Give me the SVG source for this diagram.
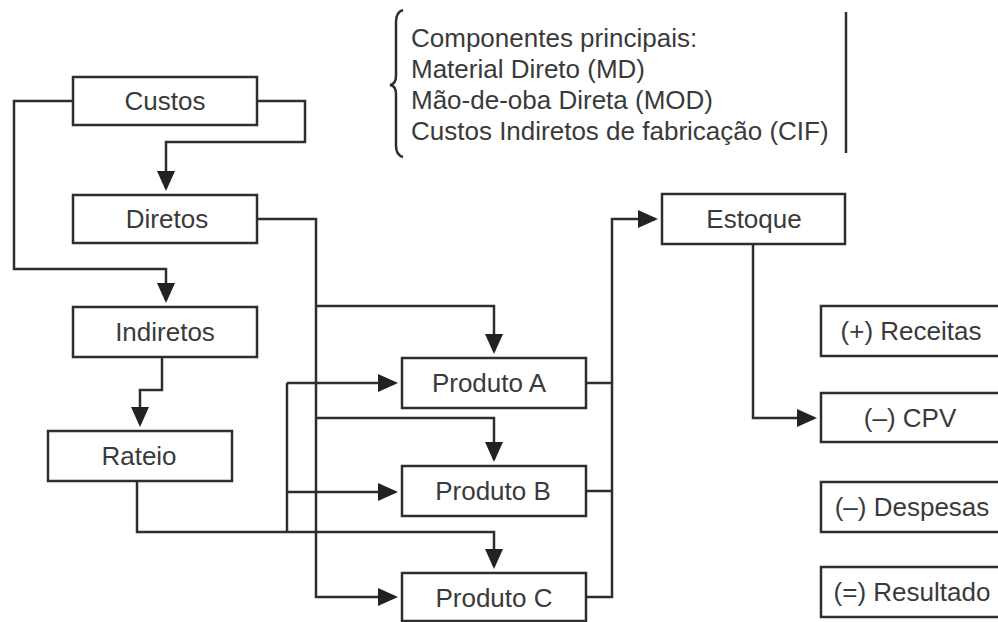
<svg xmlns="http://www.w3.org/2000/svg" width="998" height="622" viewBox="0 0 998 622">
<style>
  .box { fill: #ffffff; stroke: #2e2e2e; stroke-width: 2.5; }
  .lbl { font-family: "Liberation Sans", Arial, sans-serif; font-size: 26px; fill: #3a3a3a; text-anchor: middle; }
  .note { font-family: "Liberation Sans", Arial, sans-serif; font-size: 26px; fill: #3a3a3a; }
  .ln { fill: none; stroke: #2e2e2e; stroke-width: 2.5; }
  .arr { marker-end: url(#ah); }
</style>
<defs>
  <marker id="ah" viewBox="0 0 20 18" refX="17" refY="9" markerWidth="20" markerHeight="18" orient="auto" markerUnits="userSpaceOnUse">
    <path d="M0,0 L20,9 L0,18 z" fill="#222222"/>
  </marker>
</defs>
<rect width="998" height="622" fill="#ffffff"/>

<g id="note">
  <path class="ln" d="M403,10 Q396,12 396,22 V76 Q396,84 390,85 Q396,86 396,94 V146 Q396,155 403,157" stroke-width="2"/>
  <line class="ln" x1="846" y1="12" x2="846" y2="153"/>
  <text class="note" x="411" y="47">Componentes principais:</text>
  <text class="note" x="411" y="78">Material Direto (MD)</text>
  <text class="note" x="411" y="109">Mão-de-oba Direta (MOD)</text>
  <text class="note" x="411" y="140">Custos Indiretos de fabricação (CIF)</text>
</g>

<g id="connectors">
  <path class="ln arr" d="M73,101 H14 V269 H166 V300"/>
  <path class="ln arr" d="M257,101 H305 V142 H166 V188"/>
  <path class="ln arr" d="M257,219 H316 V597 H395"/>
  <path class="ln arr" d="M316,306 H494 V351"/>
  <path class="ln arr" d="M316,418 H494 V459"/>
  <path class="ln arr" d="M162,357 V390 H140 V424"/>
  <path class="ln arr" d="M137,481 V532 H494 V566"/>
  <path class="ln" d="M287,532 V383"/>
  <path class="ln arr" d="M287,383 H395"/>
  <path class="ln arr" d="M287,492 H395"/>
  <path class="ln" d="M586,383 H612"/>
  <path class="ln" d="M586,491 H612"/>
  <path class="ln arr" d="M586,597 H612 V219 H655"/>
  <path class="ln arr" d="M753,244 V418 H814"/>
</g>

<g id="custos">
  <rect class="box" x="73" y="77" width="184" height="48"/>
  <text class="lbl" x="165" y="110">Custos</text>
</g>
<g id="diretos">
  <rect class="box" x="73" y="195" width="184" height="48"/>
  <text class="lbl" x="167" y="228">Diretos</text>
</g>
<g id="indiretos">
  <rect class="box" x="73" y="307" width="184" height="50"/>
  <text class="lbl" x="165" y="341">Indiretos</text>
</g>
<g id="rateio">
  <rect class="box" x="48" y="431" width="184" height="50"/>
  <text class="lbl" x="139" y="465">Rateio</text>
</g>
<g id="produto-a">
  <rect class="box" x="402" y="358" width="184" height="50"/>
  <text class="lbl" x="489" y="392">Produto A</text>
</g>
<g id="produto-b">
  <rect class="box" x="402" y="466" width="184" height="50"/>
  <text class="lbl" x="493" y="500">Produto B</text>
</g>
<g id="produto-c">
  <rect class="box" x="402" y="573" width="184" height="48"/>
  <text class="lbl" x="494" y="607">Produto C</text>
</g>
<g id="estoque">
  <rect class="box" x="662" y="194" width="183" height="50"/>
  <text class="lbl" x="754" y="228">Estoque</text>
</g>
<g id="receitas">
  <rect class="box" x="821" y="306" width="200" height="50"/>
  <text class="lbl" x="911" y="340">(+) Receitas</text>
</g>
<g id="cpv">
  <rect class="box" x="821" y="393" width="200" height="49"/>
  <text class="lbl" x="910" y="427">(–) CPV</text>
</g>
<g id="despesas">
  <rect class="box" x="821" y="482" width="200" height="50"/>
  <text class="lbl" x="912" y="516">(–) Despesas</text>
</g>
<g id="resultado">
  <rect class="box" x="821" y="567" width="200" height="50"/>
  <text class="lbl" x="912" y="601">(=) Resultado</text>
</g>
</svg>
